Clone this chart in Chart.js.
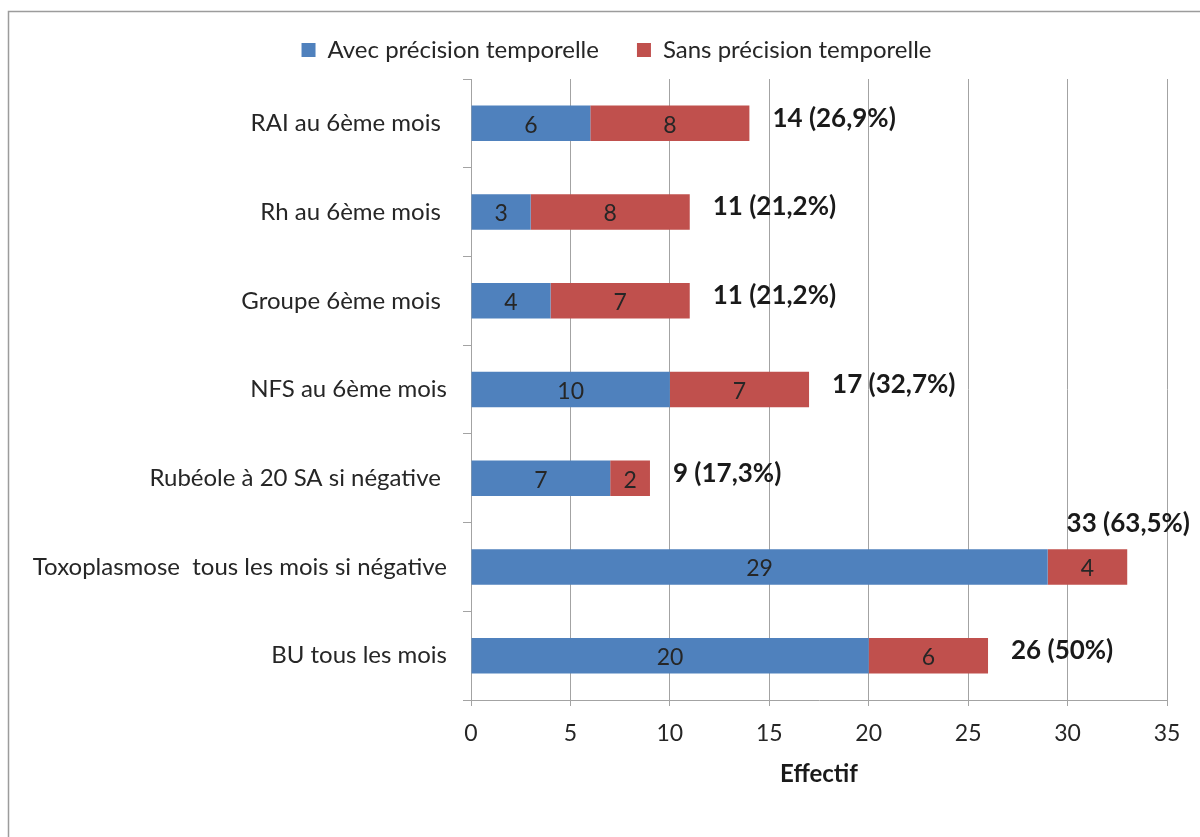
<!DOCTYPE html>
<html lang="fr">
<head>
<meta charset="UTF-8">
<title>Effectif</title>
<script src="https://cdn.jsdelivr.net/npm/chart.js"></script>
<style>
  html, body { margin: 0; padding: 0; background: #fff; }
  .chart-wrapper { width: 1200px; height: 837px; position: relative; }
</style>
</head>
<body>
<div class="chart-wrapper">
  <canvas id="barChart"></canvas>
</div>
<script>
  // données
  const categories = [
    'RAI au 6ème mois ',
    'Rh au 6ème mois ',
    'Groupe 6ème mois ',
    'NFS au 6ème mois',
    'Rubéole à 20 SA si négative ',
    'Toxoplasmose  tous les mois si négative',
    'BU tous les mois'
  ];
  const avecPrecision = [6, 3, 4, 10, 7, 29, 20];
  const sansPrecision = [8, 8, 7, 7, 2, 4, 6];
  const totalLabels = ['14 (26,9%)', '11 (21,2%)', '11 (21,2%)', '17 (32,7%)', '9 (17,3%)', '33 (63,5%)', '26 (50%)'];
  const xTicks = [0, 5, 10, 15, 20, 25, 30, 35];

  const FONT = 'Lato, "Open Sans", sans-serif';
  const gridColor = '#a3a3a3';

  // cadre autour du graphique
  const framePlugin = {
    id: 'frame',
    beforeDraw(chart) {
      const ctx = chart.ctx;
      ctx.save();
      ctx.strokeStyle = '#9c9c9c';
      ctx.lineWidth = 1.5;
      ctx.strokeRect(8.5, 11.5, chart.width + 20, chart.height + 20);
      ctx.restore();
    }
  };

  // légende : hauteur fixe, un peu décalée vers la droite
  const legendFit = {
    id: 'legendFit',
    beforeInit(chart) {
      const leg = chart.legend;
      const fit = leg.fit;
      leg.fit = function () {
        fit.call(this);
        this.height = 79;
      };
      const draw = leg.draw;
      leg.draw = function () {
        this.ctx.save();
        this.ctx.translate(29, 0);
        draw.call(this);
        this.ctx.restore();
      };
    }
  };

  // valeurs dans les barres + totaux
  const labelsPlugin = {
    id: 'barLabels',
    afterDatasetsDraw(chart) {
      const ctx = chart.ctx;
      ctx.save();
      ctx.font = '23px ' + FONT;
      ctx.fillStyle = '#262626';
      ctx.textAlign = 'center';
      ctx.textBaseline = 'middle';
      chart.data.datasets.forEach((ds, di) => {
        chart.getDatasetMeta(di).data.forEach((bar, i) => {
          const p = bar.getProps(['x', 'y', 'base'], true);
          ctx.fillText(String(ds.data[i]), (p.x + p.base) / 2, p.y + 2);
        });
      });

      ctx.font = 'bold 26px ' + FONT;
      ctx.fillStyle = '#1a1a1a';
      const last = chart.getDatasetMeta(chart.data.datasets.length - 1).data;
      last.forEach((bar, i) => {
        const p = bar.getProps(['x', 'y', 'height'], true);
        const txt = totalLabels[i];
        const w = ctx.measureText(txt).width;
        if (p.x + 23 + w > chart.width - 8) {
          ctx.textAlign = 'right';
          ctx.fillText(txt, chart.width - 10, p.y - p.height / 2 - 26);
        } else {
          ctx.textAlign = 'left';
          ctx.fillText(txt, p.x + 23, p.y - 5);
        }
      });
      ctx.restore();
    }
  };

  new Chart(document.getElementById('barChart'), {
    type: 'bar',
    data: {
      labels: categories,
      datasets: [
        {
          label: 'Avec précision temporelle',
          data: avecPrecision,
          backgroundColor: '#4f81bd',
          barPercentage: 0.4,
          categoryPercentage: 1
        },
        {
          label: 'Sans précision temporelle',
          data: sansPrecision,
          backgroundColor: '#c0504d',
          barPercentage: 0.4,
          categoryPercentage: 1
        }
      ]
    },
    options: {
      indexAxis: 'y',
      responsive: true,
      maintainAspectRatio: false,
      animation: false,
      layout: { padding: { left: 8, right: 33, top: 0, bottom: 0 } },
      plugins: {
        legend: {
          position: 'top',
          labels: {
            font: { family: FONT, size: 24 },
            color: '#262626',
            boxWidth: 14,
            boxHeight: 14,
            padding: 38
          }
        },
        tooltip: { enabled: false }
      },
      scales: {
        x: {
          stacked: true,
          min: 0,
          max: 35,
          afterBuildTicks(scale) {
            scale.ticks = xTicks.map(v => ({ value: v }));
          },
          afterFit(scale) { scale.height = 137; },
          grid: { color: gridColor, tickLength: 6, drawTicks: true },
          border: { color: gridColor },
          ticks: {
            font: { family: FONT, size: 23 },
            color: '#262626',
            padding: 14
          },
          title: {
            display: true,
            text: 'Effectif',
            font: { family: FONT, size: 24, weight: 'bold' },
            color: '#1a1a1a',
            padding: { top: 0, bottom: 48 }
          }
        },
        y: {
          stacked: true,
          afterFit(scale) { scale.width = 463; },
          grid: { drawOnChartArea: false, color: gridColor, tickLength: 8 },
          border: { color: gridColor },
          ticks: {
            font: { family: FONT, size: 24 },
            color: '#262626',
            padding: 16
          }
        }
      }
    },
    plugins: [framePlugin, legendFit, labelsPlugin]
  });
</script>
</body>
</html>
